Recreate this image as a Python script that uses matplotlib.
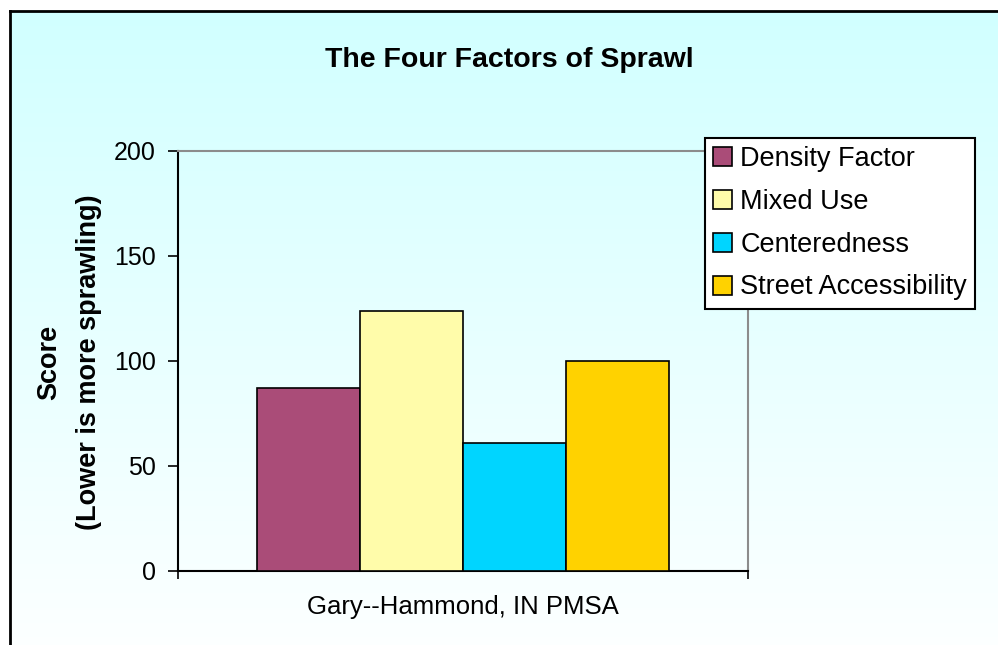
import matplotlib.pyplot as plt
from matplotlib.patches import Patch
import numpy as np

plt.rcParams['font.family'] = ['Liberation Sans', 'DejaVu Sans']

# data
category = 'Gary--Hammond, IN PMSA'
factors = ['Density Factor', 'Mixed Use', 'Centeredness', 'Street Accessibility']
scores = [87, 124, 61, 100]
colors = ['#aa4c78', '#fffcaa', '#00d5ff', '#ffd200']
yticks = [0, 50, 100, 150, 200]

W, H = 998, 645
fig = plt.figure(figsize=(W / 100, H / 100), dpi=100, facecolor='white')

# gradient background inside the outer border
bg = fig.add_axes([10 / W, 0, 1 - 10 / W, 1 - 11 / H])
grad = np.linspace(0, 1, 256).reshape(-1, 1)
top = np.array([0.82, 1.0, 1.0])
bot = np.array([0.99, 1.0, 1.0])
img = top + (bot - top) * grad[:, :, None]
bg.imshow(img, aspect='auto', extent=[0, 1, 0, 1], origin='upper')
bg.set_xticks([])
bg.set_yticks([])
for s in ['right', 'bottom']:
    bg.spines[s].set_visible(False)
for s in ['left', 'top']:
    bg.spines[s].set_linewidth(2)
    bg.spines[s].set_color('black')

ax = fig.add_axes([178 / W, 1 - 571 / H, 570 / W, 420 / H])
ax.set_facecolor('none')

w = 0.181
offsets = (np.arange(len(scores)) - 1.5) * w
ax.bar(offsets, scores, w, color=colors, edgecolor='black', linewidth=1.2, zorder=3)

ax.set_xlim(-0.5, 0.5)
ax.set_ylim(0, 200)
ax.set_yticks(yticks)
ax.tick_params('y', direction='out', length=7, width=1.2, pad=9, labelsize=18)
ax.set_xticks([-0.5, 0.5])
ax.set_xticklabels([])
ax.tick_params('x', which='major', direction='out', length=6, width=1.2)
ax.set_xticks([0], minor=True)
ax.set_xticklabels([category], minor=True)
ax.tick_params('x', which='minor', length=0, pad=17, labelsize=18.5)

ax.spines['left'].set_linewidth(1.5)
ax.spines['bottom'].set_linewidth(1.5)
ax.spines['top'].set_color('#8c8c8c')
ax.spines['right'].set_color('#8c8c8c')
ax.spines['top'].set_linewidth(1.5)
ax.spines['right'].set_linewidth(1.5)

fig.text(509 / W, 1 - 60 / H, 'The Four Factors of Sprawl', ha='center', va='center',
         fontsize=20.5, fontweight='bold')
fig.text(69 / W, 1 - 362 / H, 'Score\n(Lower is more sprawling)', ha='center', va='center',
         rotation=90, fontsize=19.5, fontweight='bold', linespacing=1.65)

handles = [Patch(facecolor=c, edgecolor='black', linewidth=1.2) for c in colors]
leg = ax.legend(handles, factors, loc='upper left', bbox_to_anchor=(705 / W, 1 - 138 / H),
                bbox_transform=fig.transFigure, borderaxespad=0, fontsize=19.5,
                handlelength=0.7, handleheight=0.7, handletextpad=0.3,
                labelspacing=0.62, borderpad=0.3, fancybox=False, framealpha=1,
                edgecolor='black', facecolor='white')
leg.get_frame().set_linewidth(1.5)

fig.savefig('out.png', dpi=100)
